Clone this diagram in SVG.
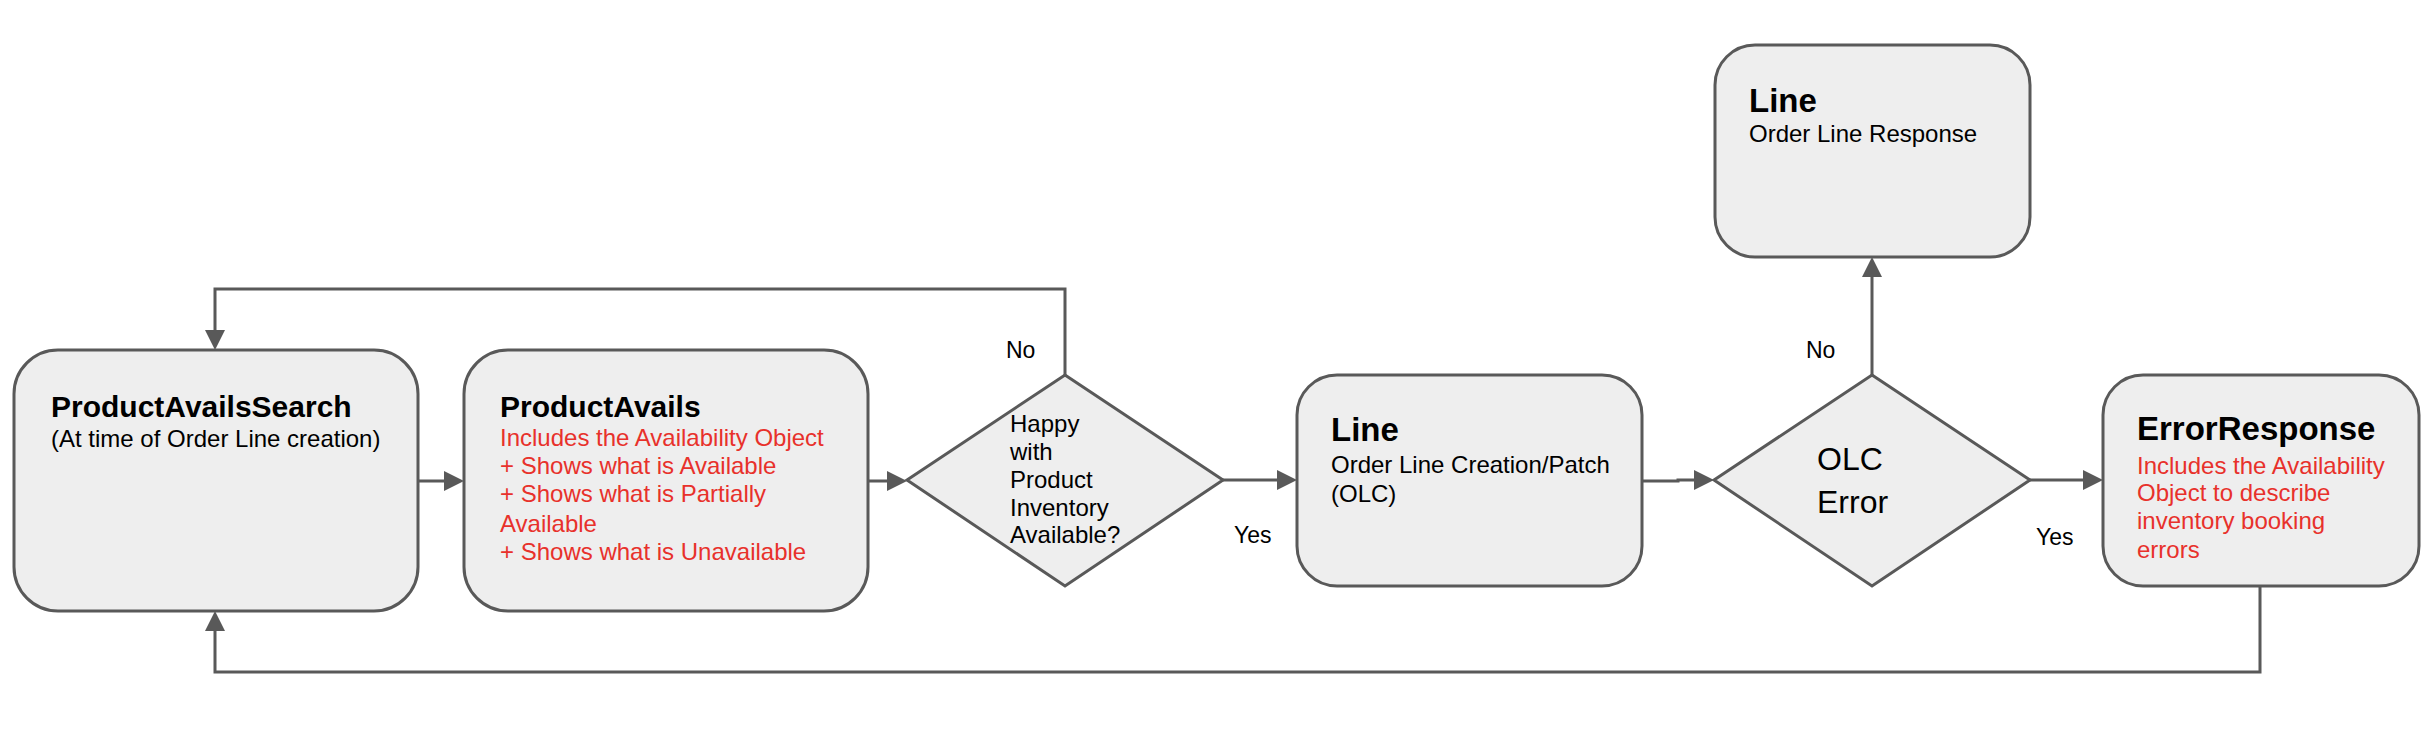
<svg xmlns="http://www.w3.org/2000/svg" width="2434" height="752" viewBox="0 0 2434 752">
<style>
.box{fill:#eeeeee;stroke:#595959;stroke-width:3}
.conn{fill:none;stroke:#595959;stroke-width:3}
text{font-family:"Liberation Sans",Arial,sans-serif;fill:#000}
.title{font-weight:bold;font-size:33px}
.title30{font-weight:bold;font-size:30px}
.body{font-size:24px}
.red{font-size:24px;fill:#e8312b}
.lbl{font-size:23px}
.big{font-size:32px}
</style>
<defs>
<marker id="arr" markerUnits="userSpaceOnUse" markerWidth="20" markerHeight="20" refX="16" refY="10" orient="auto">
<path d="M0,0 L20,10 L0,20 z" fill="#595959"/>
</marker>
</defs>
<rect x="0" y="0" width="2434" height="752" fill="#ffffff"/>
<g id="connectors">
<path class="conn" d="M418,481 H460" marker-end="url(#arr)"/>
<path class="conn" d="M868,481 H903" marker-end="url(#arr)"/>
<path class="conn" d="M1223,480 H1293" marker-end="url(#arr)"/>
<path class="conn" d="M1642,481 H1678 V480 H1710" marker-end="url(#arr)"/>
<path class="conn" d="M2030,480 H2099" marker-end="url(#arr)"/>
<path class="conn" d="M1872,375 V261" marker-end="url(#arr)"/>
<path class="conn" d="M1065,375 V289 H215 V346" marker-end="url(#arr)"/>
<path class="conn" d="M2260,586 V672 H215 V615" marker-end="url(#arr)"/>
<text class="lbl" x="1006" y="358">No</text>
<text class="lbl" x="1234" y="543">Yes</text>
<text class="lbl" x="1806" y="358">No</text>
<text class="lbl" x="2036" y="545">Yes</text>
</g>
<g id="product-avails-search">
<rect class="box" x="14" y="350" width="404" height="261" rx="44" ry="44"/>
<text class="title30" x="51" y="417">ProductAvailsSearch</text>
<text class="body" x="51" y="447">(At time of Order Line creation)</text>
</g>
<g id="product-avails">
<rect class="box" x="464" y="350" width="404" height="261" rx="44" ry="44"/>
<text class="title30" x="500" y="417">ProductAvails</text>
<text class="red" x="500" y="446">Includes the Availability Object</text>
<text class="red" x="500" y="474">+ Shows what is Available</text>
<text class="red" x="500" y="502">+ Shows what is Partially</text>
<text class="red" x="500" y="532">Available</text>
<text class="red" x="500" y="560">+ Shows what is Unavailable</text>
</g>
<g id="happy-decision">
<polygon class="box" points="1065,375 1223,480 1065,586 907,480"/>
<text class="body" x="1010" y="432">Happy</text>
<text class="body" x="1010" y="460">with</text>
<text class="body" x="1010" y="488">Product</text>
<text class="body" x="1010" y="516">Inventory</text>
<text class="body" x="1010" y="543">Available?</text>
</g>
<g id="line-olc">
<rect class="box" x="1297" y="375" width="345" height="211" rx="40" ry="40"/>
<text class="title" x="1331" y="441">Line</text>
<text class="body" x="1331" y="473">Order Line Creation/Patch</text>
<text class="body" x="1331" y="502">(OLC)</text>
</g>
<g id="olc-error-decision">
<polygon class="box" points="1872,375 2030,480 1872,586 1714,480"/>
<text class="big" x="1817" y="470">OLC</text>
<text class="big" x="1817" y="513">Error</text>
</g>
<g id="line-response">
<rect class="box" x="1715" y="45" width="315" height="212" rx="40" ry="40"/>
<text class="title" x="1749" y="112">Line</text>
<text class="body" x="1749" y="142">Order Line Response</text>
</g>
<g id="error-response">
<rect class="box" x="2103" y="375" width="316" height="211" rx="40" ry="40"/>
<text class="title" x="2137" y="440">ErrorResponse</text>
<text class="red" x="2137" y="474">Includes the Availability</text>
<text class="red" x="2137" y="501">Object to describe</text>
<text class="red" x="2137" y="529">inventory booking</text>
<text class="red" x="2137" y="558">errors</text>
</g>
</svg>
